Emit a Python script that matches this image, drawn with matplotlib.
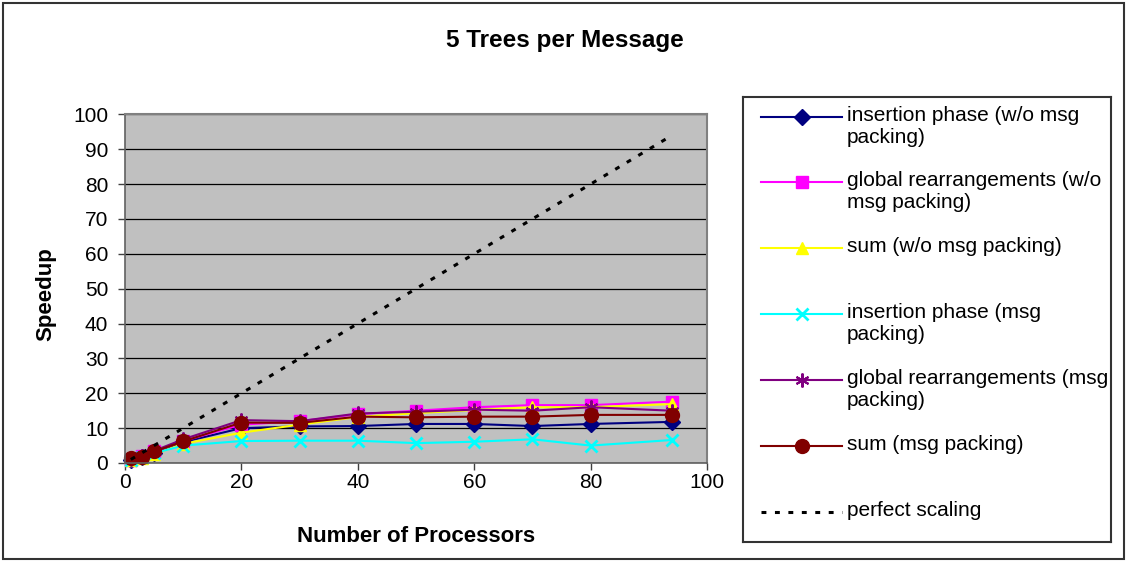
import matplotlib.pyplot as plt
from matplotlib.patches import Rectangle

plt.rcParams['font.family'] = ['Liberation Sans', 'DejaVu Sans']

# number of processors
procs = [1, 3, 5, 10, 20, 30, 40, 50, 60, 70, 80, 94]

# speedup values
ins_nopack = [1.0, 1.8, 3.0, 6.0, 10.0, 10.5, 10.6, 11.2, 11.2, 10.6, 11.2, 11.8]
glob_nopack = [1.0, 1.9, 3.3, 6.3, 11.0, 12.0, 14.0, 15.0, 16.0, 16.6, 16.6, 17.6]
sum_nopack = [0.9, 1.5, 2.5, 5.5, 8.7, 11.0, 13.2, 14.3, 15.2, 16.0, 16.0, 16.9]
ins_pack = [1.0, 1.7, 2.8, 5.0, 6.3, 6.4, 6.4, 5.7, 6.1, 6.8, 5.0, 6.6]
glob_pack = [1.2, 1.9, 3.5, 6.8, 12.3, 12.0, 14.2, 14.7, 15.3, 15.0, 16.0, 15.0]
sum_pack = [1.3, 1.6, 3.3, 6.2, 11.6, 11.5, 13.3, 13.1, 13.3, 13.3, 13.8, 13.8]
perfect = [1, 3, 5, 10, 20, 30, 40, 50, 60, 70, 80, 94]

labels = [
    'insertion phase (w/o msg\npacking)',
    'global rearrangements (w/o\nmsg packing)',
    'sum (w/o msg packing)',
    'insertion phase (msg\npacking)',
    'global rearrangements (msg\npacking)',
    'sum (msg packing)',
    'perfect scaling',
]

# (color, marker, markersize, markeredgewidth)
styles = [
    ('#000080', 'D', 8, 1),
    ('#FF00FF', 's', 8.5, 1),
    ('#FFFF00', '^', 9, 1),
    ('#00FFFF', 'x', 9, 2),
    ('#800080', (6, 2, 0), 10, 1.5),
    ('#800000', 'o', 10, 1),
]

W, H = 1130, 581
fig = plt.figure(figsize=(W / 100, H / 100), dpi=100)

# outer chart border
fig.patches.append(Rectangle((3 / W, 1 - 559 / H), 1121 / W, 556 / H,
                             transform=fig.transFigure, fill=False,
                             edgecolor='#333333', linewidth=1.5))

ax = fig.add_axes([125 / W, 1 - 463 / H, (707 - 125) / W, (463 - 114.4) / H])
ax.set_facecolor('#C0C0C0')

series = [ins_nopack, glob_nopack, sum_nopack, ins_pack, glob_pack, sum_pack]
for ys, (c, m, ms, mew) in zip(series, styles):
    ax.plot(procs, ys, color=c, lw=1.5, marker=m, ms=ms, mew=mew,
            mec=c, mfc=c, clip_on=False)
ax.plot(procs, perfect, color='black', lw=2.2, linestyle=(0, (1.6, 2.8)))

ax.set_xlim(0, 100)
ax.set_ylim(0, 100)
ax.set_xticks(range(0, 101, 20))
ax.set_yticks(range(0, 101, 10))
ax.grid(axis='y', color='black', lw=0.9)
ax.set_axisbelow(True)
ax.tick_params(direction='out', length=5, width=1, labelsize=15, color='#404040')
ax.tick_params(axis='y', pad=7)
ax.tick_params(axis='x', pad=2)
for s in ['top', 'right']:
    ax.spines[s].set_color('#808080')
    ax.spines[s].set_linewidth(1.5)
for s in ['left', 'bottom']:
    ax.spines[s].set_color('#606060')
    ax.spines[s].set_linewidth(1.2)

fig.text(0.5, 1 - 40 / H, '5 Trees per Message', ha='center', va='center',
         fontsize=17.5, fontweight='bold')
fig.text(416 / W, 1 - 536 / H, 'Number of Processors', ha='center', va='center',
         fontsize=16, fontweight='bold')
fig.text(46 / W, 1 - 294 / H, 'Speedup', ha='center', va='center',
         rotation=90, fontsize=16, fontweight='bold')

# legend drawn by hand so the symbol sits beside the first text line
lx0, lx1, ly0, ly1 = 743, 1111, 97, 542
lax = fig.add_axes([lx0 / W, 1 - ly1 / H, (lx1 - lx0) / W, (ly1 - ly0) / H])
lax.set_xlim(lx0, lx1)
lax.set_ylim(ly1, ly0)
lax.set_xticks([])
lax.set_yticks([])
for s in lax.spines.values():
    s.set_color('#333333')
    s.set_linewidth(1.5)

entry_y = [116.5, 182, 248, 313.5, 379.5, 445.5, 511.5]
for i, (lab, y) in enumerate(zip(labels, entry_y)):
    if i < len(styles):
        c, m, ms, mew = styles[i]
        lax.plot([761, 842], [y, y], color=c, lw=1.5)
        lax.plot([801.5], [y], color=c, marker=m, ms=ms, mew=mew, mec=c, mfc=c)
    else:
        lax.plot([761, 842], [y, y], color='black', lw=2.2,
                 linestyle=(0, (1.6, 2.8)))
    lax.text(847, y - 10.5, lab, ha='left', va='top', fontsize=15,
             linespacing=1.2)

fig.savefig('out.png', dpi=100)
